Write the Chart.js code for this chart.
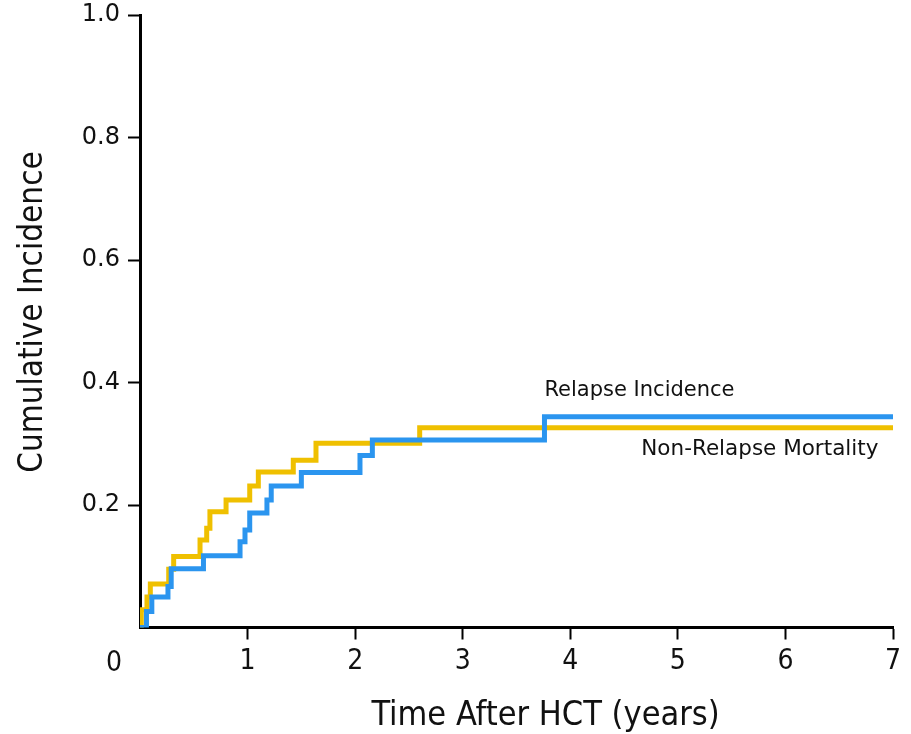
<!DOCTYPE html>
<html><head><meta charset="utf-8">
<script src="https://cdn.jsdelivr.net/npm/chart.js@4.4.0/dist/chart.umd.min.js"></script>
<style>html,body{margin:0;padding:0;background:#fff}#wrap{width:911px;height:734px;position:relative}</style>
</head><body><div id="wrap"><canvas id="c" width="911" height="734"></canvas></div>
<script>
// Relapse Incidence (blue) step points: time (years), cumulative incidence
const relapseX = [0, 0.06, 0.11, 0.26, 0.29, 0.59, 0.93, 0.976, 1.02, 1.18, 1.22, 1.50, 2.045, 2.16, 3.76, 7.0];
const relapseY = [0, 0.026, 0.050, 0.067, 0.096, 0.117, 0.140, 0.159, 0.187, 0.208, 0.231, 0.253, 0.281, 0.306, 0.344, 0.344];
// Non-Relapse Mortality (yellow)
const nrmX = [0, 0.012, 0.065, 0.096, 0.267, 0.313, 0.558, 0.62, 0.65, 0.80, 1.02, 1.10, 1.425, 1.636, 2.60, 7.0];
const nrmY = [0, 0.029, 0.050, 0.071, 0.095, 0.116, 0.143, 0.162, 0.189, 0.208, 0.231, 0.254, 0.273, 0.301, 0.326, 0.326];
const xTicks = [0, 1, 2, 3, 4, 5, 6, 7];
const yTicks = [0, 0.2, 0.4, 0.6, 0.8, 1.0];
const seriesNames = ['Relapse Incidence', 'Non-Relapse Mortality'];
const xTitle = 'Time After HCT (years)';
const yTitle = 'Cumulative Incidence';

const NARROW = '"Liberation Sans Narrow", "DejaVu Sans Condensed", "Roboto Condensed", sans-serif';
const REG = '"DejaVu Sans", "Liberation Sans", sans-serif';

const toPts = (xs, ys) => xs.map((x, i) => ({x: x, y: ys[i]}));

const extras = {
  id: 'extras',
  afterDraw(chart) {
    const {ctx, chartArea: a, scales: {x, y}} = chart;
    ctx.save();
    ctx.fillStyle = '#111';
    // origin label
    ctx.font = '28px ' + NARROW;
    ctx.textAlign = 'center';
    ctx.textBaseline = 'middle';
    ctx.fillText(String(xTicks[0]), a.left - 26, a.bottom + 36);
    // x title
    ctx.font = '34px ' + NARROW;
    ctx.fillText(xTitle, x.getPixelForValue(3.77), 716);
    // y title
    ctx.save();
    ctx.translate(33, y.getPixelForValue(0.515));
    ctx.rotate(-Math.PI / 2);
    ctx.font = '33px ' + NARROW;
    ctx.fillText(yTitle, 0, 0);
    ctx.restore();
    // series labels
    ctx.textAlign = 'left';
    ctx.font = '21px ' + REG;
    ctx.fillText(seriesNames[0], x.getPixelForValue(3.76), y.getPixelForValue(0.387));
    ctx.font = '21.5px ' + REG;
    ctx.fillText(seriesNames[1], x.getPixelForValue(4.66), y.getPixelForValue(0.291));
    ctx.restore();
  }
};

const hideZero = (c) => (c.tick && c.tick.value === 0) ? 'rgba(0,0,0,0)' : '#000';

new Chart(document.getElementById('c'), {
  type: 'scatter',
  data: {
    datasets: [
      {label: seriesNames[0], data: toPts(relapseX, relapseY), showLine: true, stepped: 'before',
       borderColor: '#2b95ef', borderWidth: 5, pointRadius: 0, fill: false, borderCapStyle: 'butt'},
      {label: seriesNames[1], data: toPts(nrmX, nrmY), showLine: true, stepped: 'before',
       borderColor: '#efc000', borderWidth: 5, pointRadius: 0, fill: false, borderCapStyle: 'butt'}
    ]
  },
  options: {
    responsive: false,
    animation: false,
    devicePixelRatio: 1,
    layout: {padding: {left: 0, right: 18, top: 15, bottom: 0}},
    plugins: {legend: {display: false}, tooltip: {enabled: false}},
    scales: {
      x: {
        type: 'linear', min: 0, max: 7,
        afterBuildTicks: s => { s.ticks = xTicks.map(v => ({value: v})); },
        afterFit: s => { s.height = 734 - 627.5; s.paddingLeft = 0; s.paddingRight = 0; },
        border: {display: true, color: '#000', width: 3},
        grid: {display: true, drawOnChartArea: false, drawTicks: true, tickLength: 12, tickWidth: 2, tickColor: hideZero},
        ticks: {color: '#111', font: {family: NARROW, size: 28}, padding: 5, maxRotation: 0,
                callback: v => v === 0 ? '' : String(v)}
      },
      y: {
        type: 'linear', min: 0, max: 1,
        afterBuildTicks: s => { s.ticks = yTicks.map(v => ({value: v})); },
        afterFit: s => { s.width = 140; s.paddingTop = 0; s.paddingBottom = 0; },
        border: {display: true, color: '#000', width: 3},
        grid: {display: true, drawOnChartArea: false, drawTicks: true, tickLength: 12, tickWidth: 2, tickColor: hideZero},
        ticks: {color: '#111', font: {family: REG, size: 24}, padding: 8,
                callback: v => v === 0 ? '' : v.toFixed(1)}
      }
    }
  },
  plugins: [extras]
});
</script></body></html>
